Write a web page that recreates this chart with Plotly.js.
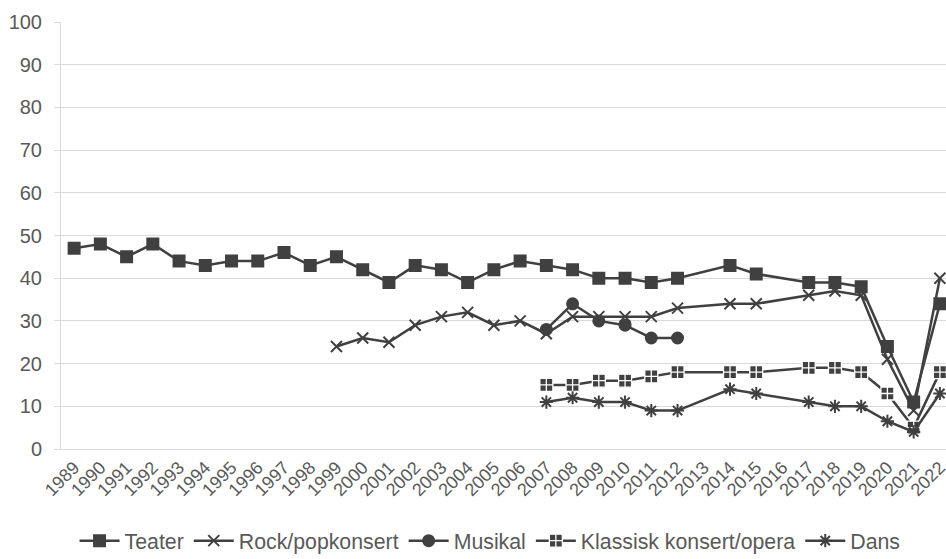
<!DOCTYPE html>
<html>
<head>
<meta charset="utf-8">
<script src="https://cdn.plot.ly/plotly-3.0.1.min.js"></script>
<style>
  html, body { margin: 0; padding: 0; overflow: hidden; background: #fff; }
</style>
</head>
<body>
<div id="divplot"></div>
<script>
var years = ['1989','1990','1991','1992','1993','1994','1995','1996','1997','1998',
             '1999','2000','2001','2002','2003','2004','2005','2006','2007','2008',
             '2009','2010','2011','2012','2013','2014','2015','2016','2017','2018',
             '2019','2020','2021','2022'];

var teater = [47,48,45,48,44,43,44,44,46,43,45,42,39,43,42,39,42,44,43,42,
              40,40,39,40,null,43,41,null,39,39,38,24,11,34];
var rock = [null,null,null,null,null,null,null,null,null,null,24,26,25,29,31,32,29,30,27,31,
            31,31,31,33,null,34,34,null,36,37,36,21,9,40];
var musikal = [null,null,null,null,null,null,null,null,null,null,null,null,null,null,null,null,null,null,28,34,
               30,29,26,26,null,null,null,null,null,null,null,null,null,null];
var klassisk = [null,null,null,null,null,null,null,null,null,null,null,null,null,null,null,null,null,null,15,15,
                16,16,17,18,null,18,18,null,19,19,18,13,5,18];
var dans = [null,null,null,null,null,null,null,null,null,null,null,null,null,null,null,null,null,null,11,12,
            11,11,9,9,null,14,13,null,11,10,10,6.5,4,13];

var lineColor = '#404040';

function makeTrace(name, values, symbol, size, lineWidth) {
    return {
        x: years,
        y: values,
        name: name,
        type: 'scatter',
        mode: 'lines+markers',
        connectgaps: true,
        cliponaxis: false,
        line: { color: lineColor, width: 2.5 },
        marker: {
            symbol: symbol,
            size: size,
            color: lineColor,
            line: { color: lineWidth ? '#ffffff' : lineColor, width: lineWidth || 2 }
        }
    };
}

var traceData = [
    makeTrace('Teater', teater, 'square', 11),
    makeTrace('Rock/popkonsert', rock, 'x-thin-open', 11),
    makeTrace('Musikal', musikal, 'circle', 11),
    makeTrace('Klassisk konsert/opera', klassisk, 'square-cross', 13, 1.3),
    makeTrace('Dans', dans, 'asterisk-open', 11)
];

var layout = {
    width: 955,
    height: 559,
    margin: { l: 61, r: 2, t: 22, b: 110, autoexpand: false },
    paper_bgcolor: '#ffffff',
    plot_bgcolor: '#ffffff',
    font: { family: 'Liberation Sans, Arial, sans-serif', color: '#595959', size: 19 },
    showlegend: true,
    legend: {
        orientation: 'h',
        x: 0.481,
        xanchor: 'center',
        y: -0.215,
        yanchor: 'middle',
        font: { size: 21.3, color: '#595959' },
        itemwidth: 40,
        traceorder: 'normal'
    },
    xaxis: {
        type: 'category',
        range: [-0.5, 33.5],
        tickangle: -45,
        tickfont: { size: 18, color: '#595959' },
        showgrid: false,
        showline: true,
        linecolor: '#d9d9d9',
        linewidth: 1,
        ticks: '',
        automargin: false,
        fixedrange: true
    },
    yaxis: {
        range: [0, 100],
        dtick: 10,
        tickfont: { size: 20, color: '#595959' },
        showgrid: true,
        gridcolor: '#d9d9d9',
        gridwidth: 1,
        showline: true,
        linecolor: '#d9d9d9',
        linewidth: 1,
        zeroline: false,
        ticks: 'outside',
        ticklen: 6,
        tickcolor: '#d9d9d9',
        ticklabelstandoff: 8,
        automargin: false,
        fixedrange: true
    }
};

Plotly.newPlot('divplot', traceData, layout, { displayModeBar: false, staticPlot: true });
</script>
</body>
</html>
